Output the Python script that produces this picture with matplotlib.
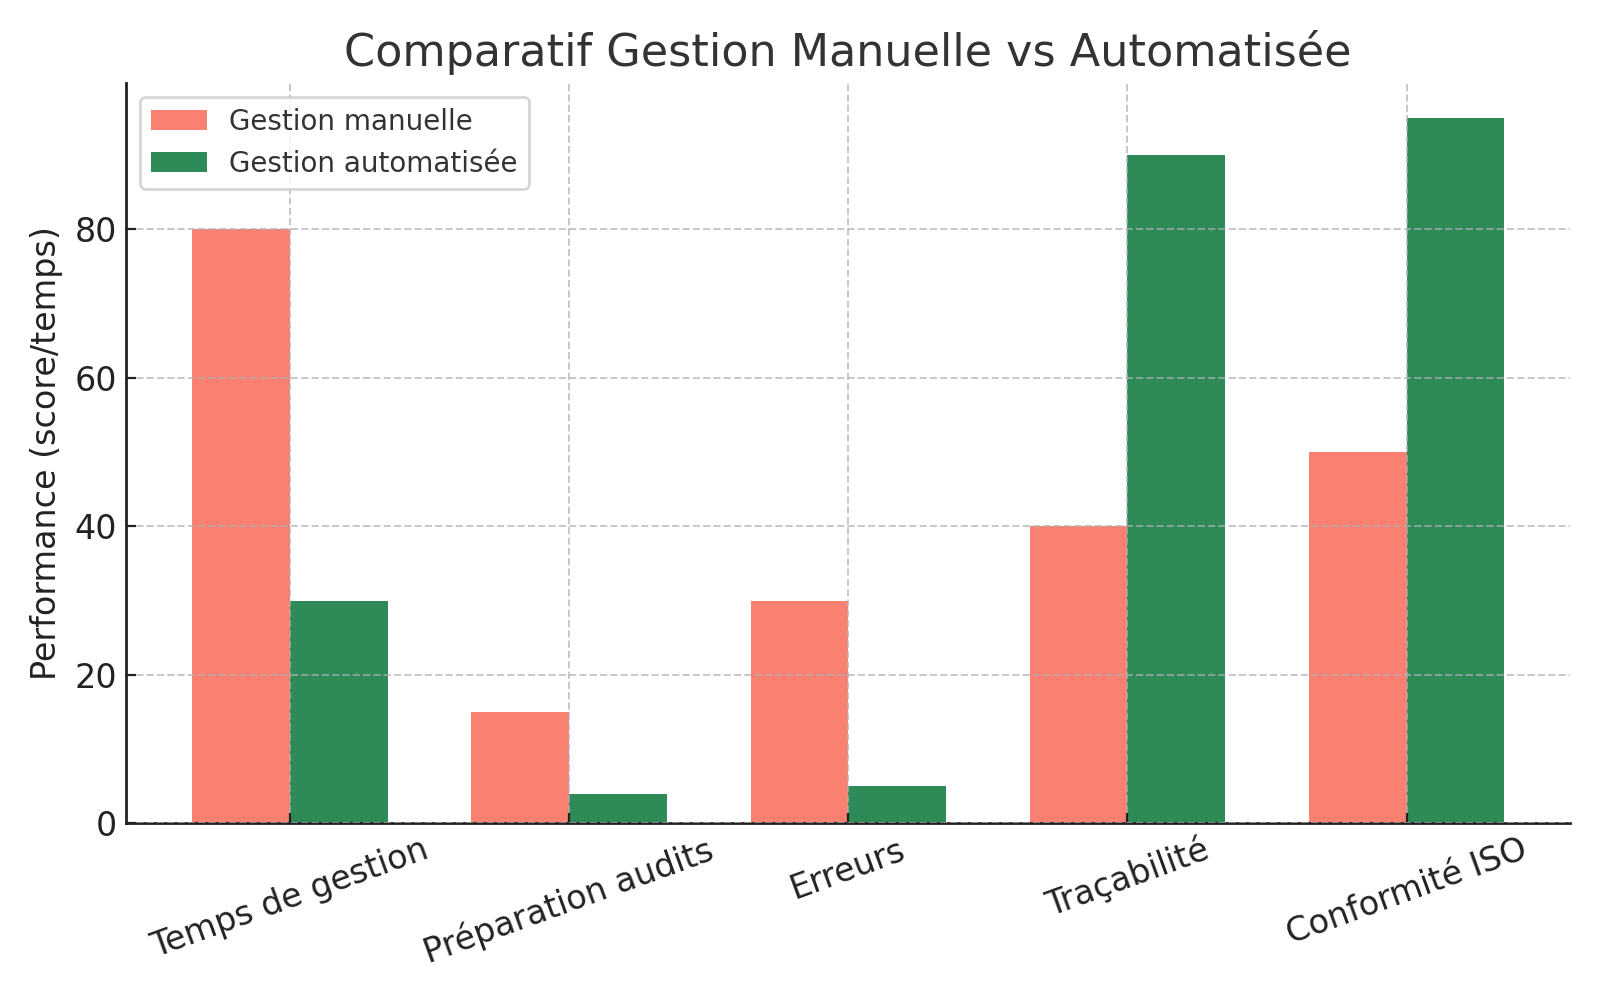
import matplotlib
matplotlib.use("Agg")
import matplotlib.pyplot as plt
import numpy as np

categories = ["Temps de gestion", "Préparation audits", "Erreurs", "Traçabilité", "Conformité ISO"]
manuelle = [80, 15, 30, 40, 50]
automatisee = [30, 4, 5, 90, 95]
series_labels = ["Gestion manuelle", "Gestion automatisée"]
title = "Comparatif Gestion Manuelle vs Automatisée"
ylabel = "Performance (score/temps)"

plt.rcParams['font.family'] = ['DejaVu Sans']

fig, ax = plt.subplots(figsize=(8, 5), dpi=200)
x = np.arange(len(categories))
width = 0.35
ax.bar(x - width / 2, manuelle, width, label=series_labels[0], color="#FA8072")
ax.bar(x + width / 2, automatisee, width, label=series_labels[1], color="#2E8B57")

ax.set_title(title, fontsize=16, color="#333333")
ax.set_ylabel(ylabel, fontsize=12, color="#222222")
ax.set_xticks(x)
ax.set_xticklabels(categories, rotation=20, fontsize=12, color="#222222")
ax.tick_params(axis='y', labelsize=12, labelcolor="#222222")
ax.tick_params(direction='in', length=3.5, width=0.8, color="#222222")
ax.set_yticks([0, 20, 40, 60, 80])

ax.set_axisbelow(False)
ax.grid(True, linestyle='--', color="#b0b0b0", alpha=0.7, linewidth=0.7)
for s in ['top', 'right']:
    ax.spines[s].set_visible(False)
for s in ['left', 'bottom']:
    ax.spines[s].set_color("#222222")
    ax.spines[s].set_linewidth(1.0)

leg = ax.legend(loc='upper left', fontsize=10, frameon=True)
leg.get_frame().set_edgecolor("#cccccc")
for t in leg.get_texts():
    t.set_color("#333333")

fig.tight_layout()
fig.savefig("out.png", dpi=200)
